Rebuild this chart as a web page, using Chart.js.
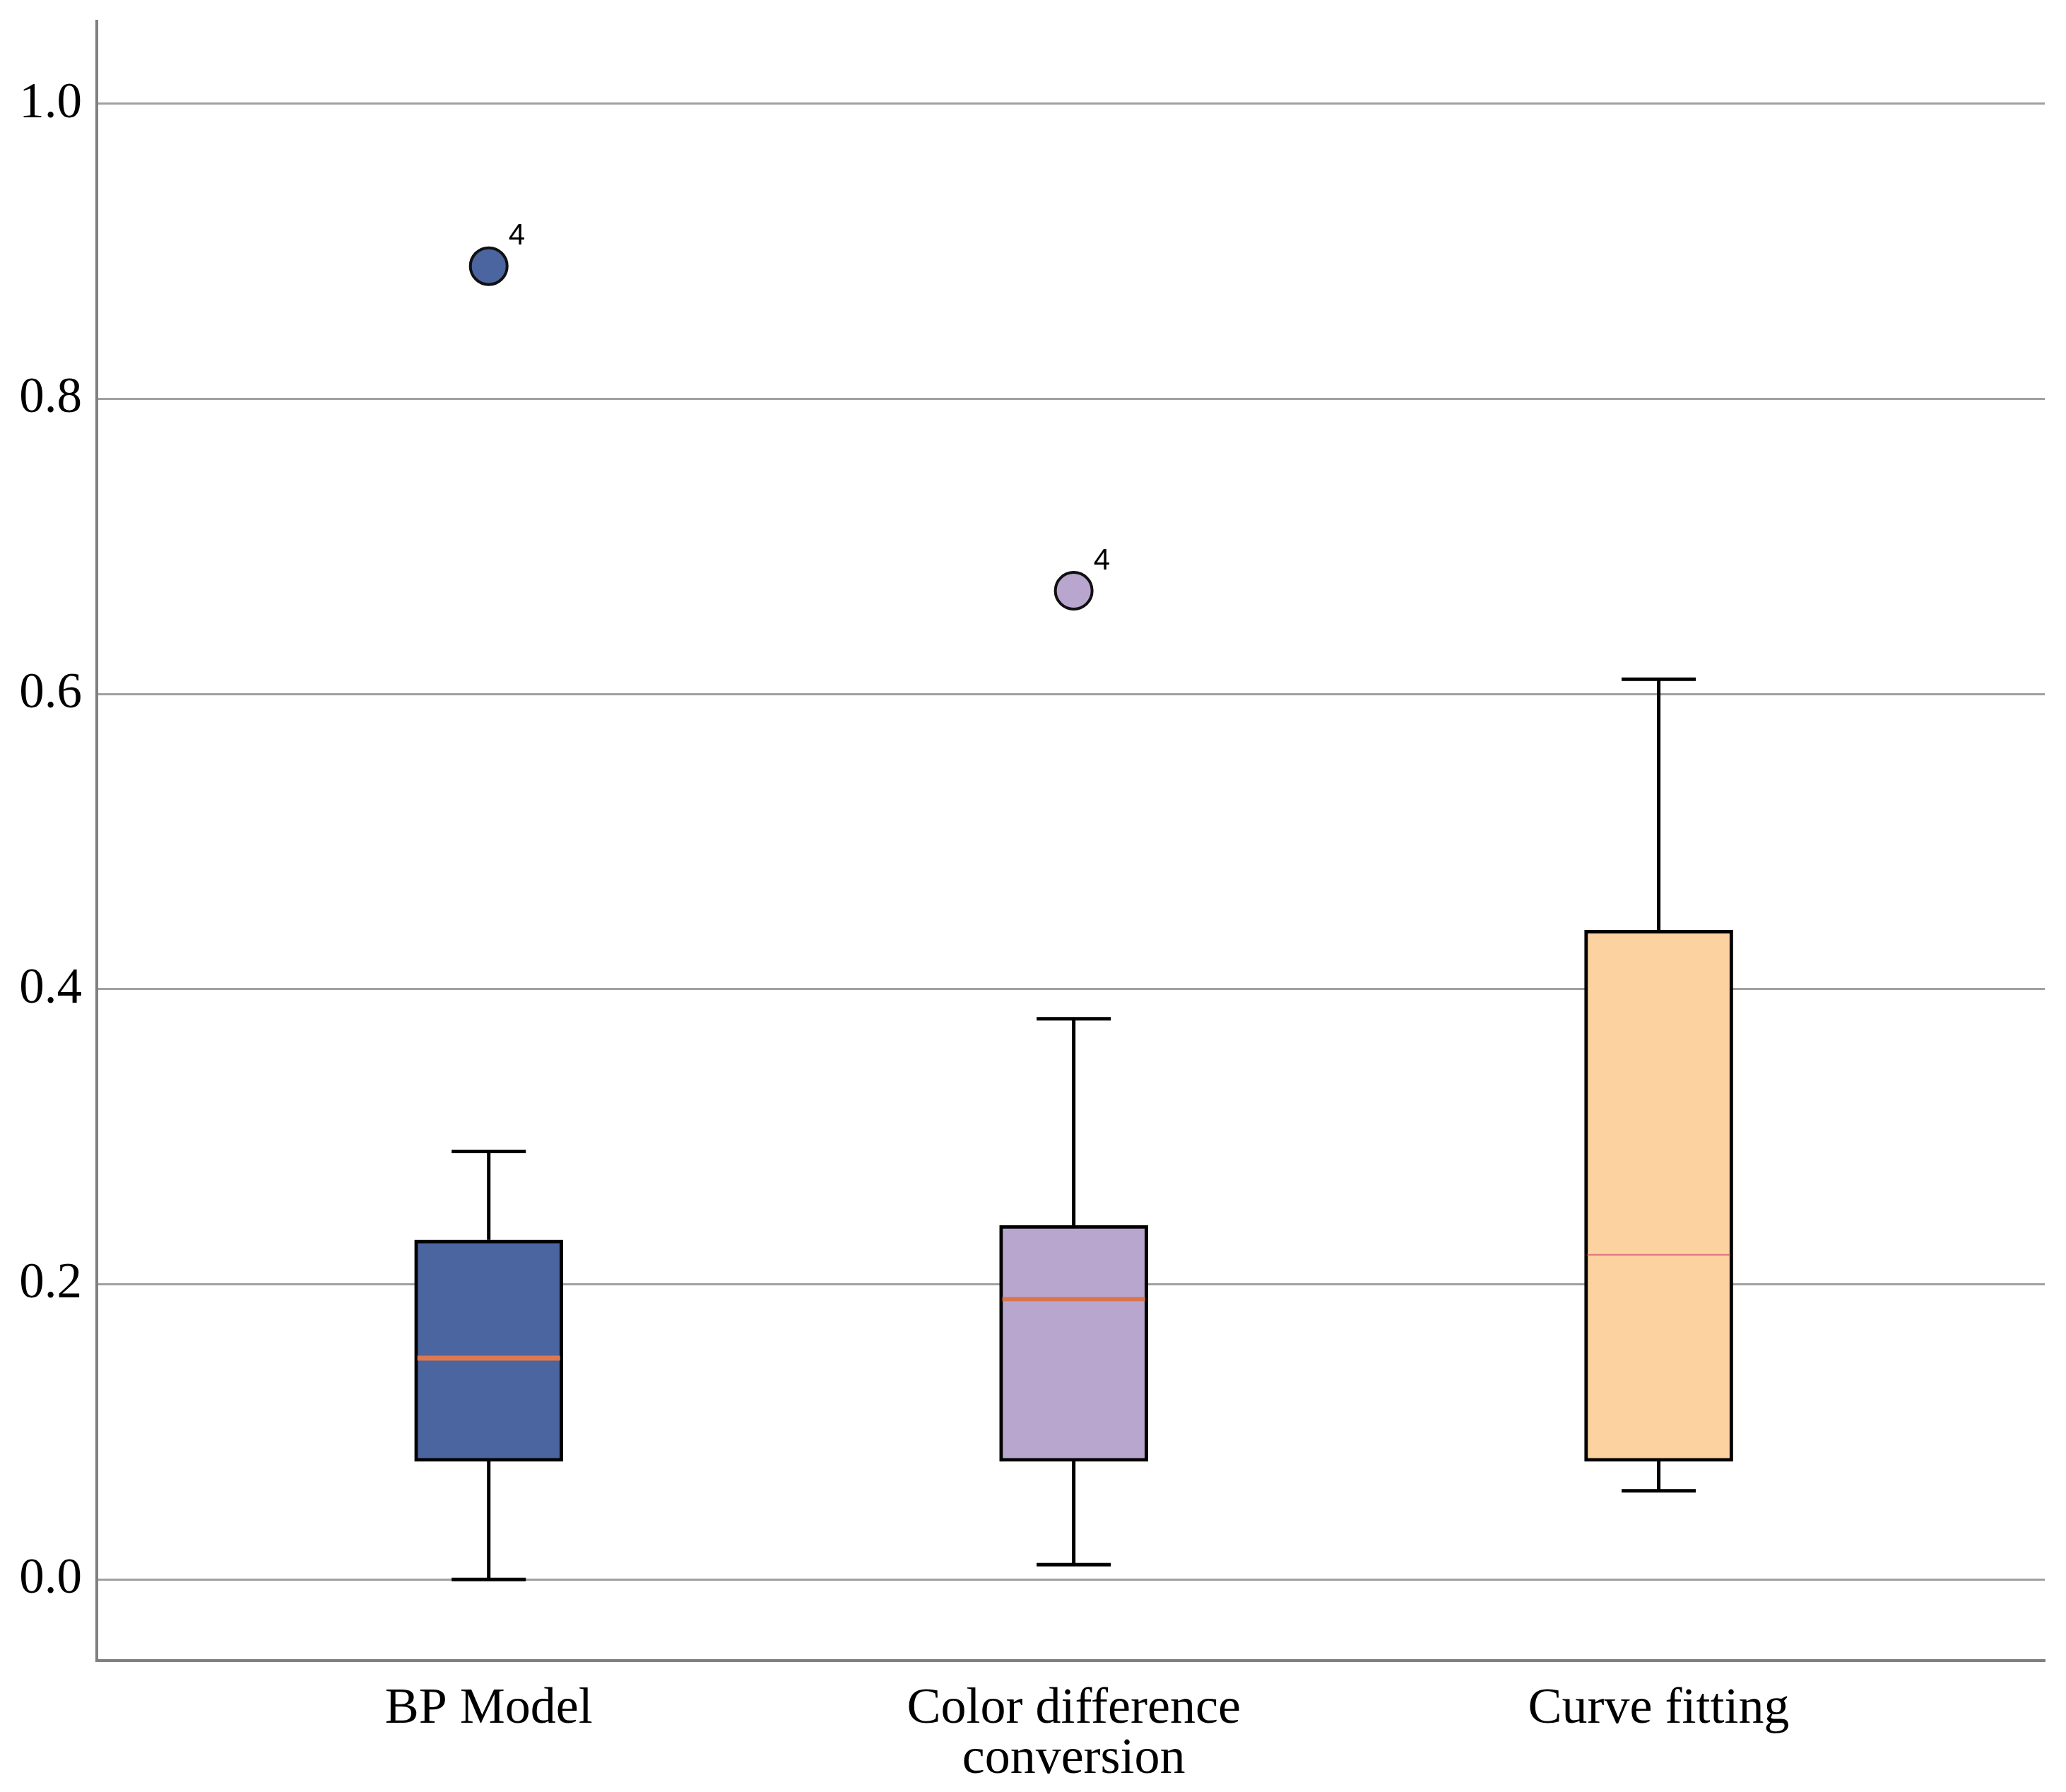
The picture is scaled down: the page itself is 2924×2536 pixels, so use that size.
<!DOCTYPE html>
<html>
<head>
<meta charset="utf-8">
<title>Box plot</title>
<script src="https://cdn.jsdelivr.net/npm/chart.js@4.4.1/dist/chart.umd.min.js"></script>
<style>
  html, body { margin: 0; padding: 0; background: #fff; }
  canvas { display: block; }
</style>
</head>
<body>
<canvas id="boxChart" width="2924" height="2536"></canvas>
<script>
// values
const categories = ['BP Model', ['Color difference', 'conversion'], 'Curve fitting'];
const whiskerLow = [0.00, 0.01, 0.06];
const q1 = [0.08, 0.08, 0.08];
const median = [0.15, 0.19, 0.22];
const q3 = [0.23, 0.24, 0.44];
const whiskerHigh = [0.29, 0.38, 0.61];
const outlierValues = [0.89, 0.67, null];
const outlierLabels = ['4', '4', null];
const yTicks = [0, 0.2, 0.4, 0.6, 0.8, 1.0];

const boxColors = ['#4b65a0', '#b8a6cf', '#fcd2a0'];
const medianColors = ['#e0784f', '#d9744c', '#e07080'];
const medianWidths = [7, 6, 2];
const CAP_WIDTH = 105;

const ctx = document.getElementById('boxChart');

const boxParts = {
  id: 'boxParts',
  beforeDatasetsDraw(chart) {
    const c = chart.ctx, xs = chart.scales.x, ys = chart.scales.y;
    c.save();
    c.strokeStyle = '#000';
    c.lineWidth = 5;
    c.lineCap = 'butt';
    categories.forEach((cat, i) => {
      const x = xs.getPixelForValue(i + 1);
      const yHi = ys.getPixelForValue(whiskerHigh[i]);
      const yLo = ys.getPixelForValue(whiskerLow[i]);
      c.beginPath();
      c.moveTo(x, ys.getPixelForValue(q3[i]));
      c.lineTo(x, yHi);
      c.moveTo(x, ys.getPixelForValue(q1[i]));
      c.lineTo(x, yLo);
      c.moveTo(x - CAP_WIDTH / 2, yHi);
      c.lineTo(x + CAP_WIDTH / 2, yHi);
      c.moveTo(x - CAP_WIDTH / 2, yLo);
      c.lineTo(x + CAP_WIDTH / 2, yLo);
      c.stroke();
    });
    c.restore();
  },
  afterDatasetsDraw(chart) {
    const c = chart.ctx, xs = chart.scales.x, ys = chart.scales.y;
    const bars = chart.getDatasetMeta(0).data;
    c.save();
    categories.forEach((cat, i) => {
      const bar = bars[i];
      const y = ys.getPixelForValue(median[i]);
      c.strokeStyle = medianColors[i];
      c.lineWidth = medianWidths[i];
      c.beginPath();
      c.moveTo(bar.x - bar.width / 2 + 4, y);
      c.lineTo(bar.x + bar.width / 2 - 4, y);
      c.stroke();
    });
    c.fillStyle = '#000';
    c.font = '42px "Liberation Sans", Arial, sans-serif';
    c.textAlign = 'left';
    c.textBaseline = 'middle';
    outlierValues.forEach((v, i) => {
      if (v === null) return;
      c.fillText(outlierLabels[i], xs.getPixelForValue(i + 1) + 28, ys.getPixelForValue(v) - 42);
    });
    c.restore();
  }
};

new Chart(ctx, {
  type: 'bar',
  data: {
    datasets: [{
      type: 'bar',
      data: categories.map((cat, i) => ({ x: i + 1, y: [q1[i], q3[i]] })),
      backgroundColor: boxColors,
      borderColor: '#000',
      borderWidth: 5,
      borderSkipped: false,
      barThickness: 210
    }, {
      type: 'scatter',
      data: outlierValues.map((v, i) => ({ x: i + 1, y: v })).filter(p => p.y !== null),
      pointBackgroundColor: boxColors,
      pointBorderColor: '#111',
      pointBorderWidth: 4,
      pointRadius: 26
    }]
  },
  options: {
    responsive: false,
    devicePixelRatio: 1,
    animation: false,
    layout: { padding: { top: 28, right: 17, left: 0, bottom: 0 } },
    plugins: {
      legend: { display: false },
      tooltip: { enabled: false }
    },
    scales: {
      x: {
        type: 'linear',
        offset: false,
        min: 0.33,
        max: 3.66,
        afterBuildTicks: (scale) => { scale.ticks = categories.map((c, i) => ({ value: i + 1 })); },
        afterFit: (scale) => { scale.height = 186; scale.paddingLeft = 0; scale.paddingRight = 0; },
        grid: { display: false, drawTicks: false, offset: false },
        border: { display: true, color: '#808080', width: 4 },
        ticks: {
          padding: 34,
          color: '#000',
          maxRotation: 0,
          autoSkip: false,
          font: { family: '"Liberation Serif", "Times New Roman", serif', size: 72, lineHeight: 0.98 },
          callback: (value) => categories[value - 1]
        }
      },
      y: {
        min: -0.055,
        max: 1.056,
        afterBuildTicks: (scale) => { scale.ticks = yTicks.map(v => ({ value: v })); },
        afterFit: (scale) => { scale.width = 137; scale.paddingTop = 0; scale.paddingBottom = 0; },
        grid: { color: '#a0a0a0', lineWidth: 3, drawTicks: false },
        border: { display: true, color: '#808080', width: 4 },
        ticks: {
          padding: 21,
          color: '#000',
          font: { family: '"Liberation Serif", "Times New Roman", serif', size: 71 },
          callback: (value) => value.toFixed(1)
        }
      }
    }
  },
  plugins: [boxParts]
});
</script>
</body>
</html>
